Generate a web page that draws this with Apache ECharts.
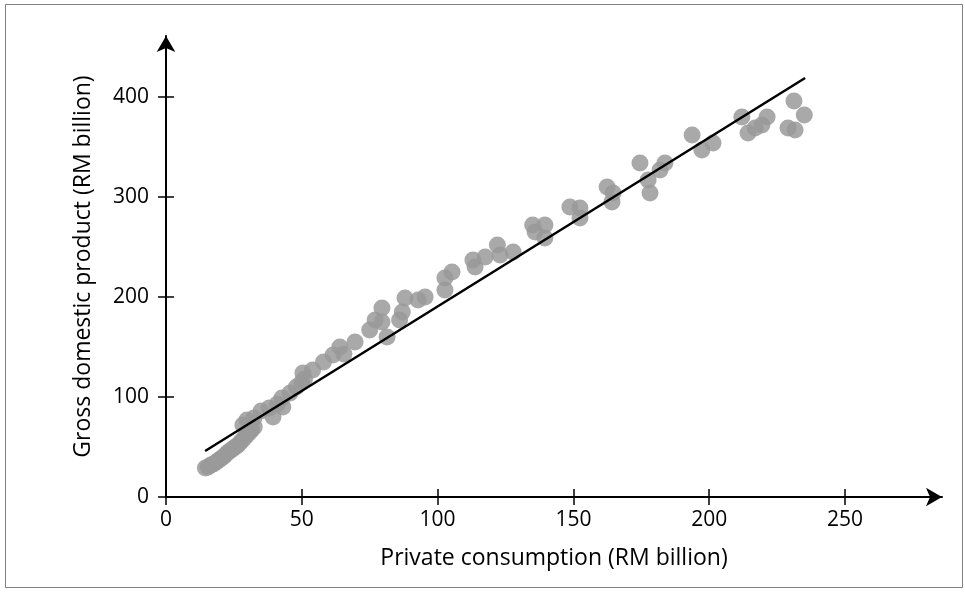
<!DOCTYPE html>
<html>
<head>
<meta charset="utf-8">
<script src="https://cdn.jsdelivr.net/npm/echarts@6/dist/echarts.min.js"></script>
<style>
html, body { margin: 0; padding: 0; background: #fff; }
#main { width: 965px; height: 592px; }
</style>
</head>
<body>
<div id="main"></div>
<script>
// private consumption (RM billion)
var consumption = [
    14.5, 15.5, 16.5, 17.5, 18.5, 19.5, 20.5, 21.5, 22.5, 23.5, 24.5, 25.5, 26.5, 27.5, 28.5, 29.5, 30.5, 31.5, 32.5,
    28.3, 29.8, 32.4, 35, 38, 39.4, 41, 43, 42.7, 45.7, 48, 50, 50.4, 51, 54, 58, 61.5, 64, 65.5, 69.6,
    75, 77, 79.5, 79.5, 81.4, 86, 87, 88, 92.8, 95.4,
    102.7, 102.7, 105.3, 113, 113.8, 117.5, 122, 123, 127.8, 135, 135.9, 139.5, 139.5,
    148.7, 152.4, 152.4, 162.4, 164.6, 164.2, 174.5, 177.5, 178.2, 181.9, 183.7,
    193.7, 197.3, 201.4, 212, 214.3, 216.9, 219.4, 221.3, 229, 231.6, 231.2, 235
];
// gross domestic product (RM billion)
var gdp = [
    29, 30, 32, 33, 35, 37, 39, 41, 44, 46, 48, 50, 52, 55, 58, 61, 64, 67, 70,
    72, 77, 79, 86, 89, 80, 93, 90, 99, 104, 110, 115, 124, 118, 127, 135, 142, 150, 143, 155,
    167, 177, 189, 175, 160, 177, 185, 199, 197, 200,
    219, 207, 225, 237, 230, 240, 252, 242, 245, 272, 265, 272, 259,
    290, 289, 279, 310, 304, 295, 334, 317, 304, 327, 334,
    362, 347, 354, 380, 364, 369, 372, 380, 369, 367, 396, 382
];
// fitted line end points
var trendX = [14.4, 235.3];
var trendY = [46, 419];

var xTicks = [0, 50, 100, 150, 200, 250];
var yTicks = [0, 100, 200, 300, 400];

var points = consumption.map(function (x, i) { return [x, gdp[i]]; });
var trend = trendX.map(function (x, i) { return [x, trendY[i]]; });

var myChart = echarts.init(document.getElementById('main'));

var font = 'Open Sans';

var option = {
    animation: false,
    graphic: [{
        type: 'rect',
        shape: { x: 5.5, y: 4.5, width: 957, height: 583 },
        style: { fill: 'none', stroke: '#808080', lineWidth: 1 },
        silent: true
    }],
    grid: {
        left: 166,
        right: 23,
        top: 36,
        bottom: 95
    },
    xAxis: [
        {
            type: 'value',
            position: 'bottom',
            min: 0,
            max: 285.7,
            name: 'Private consumption (RM billion)',
            nameLocation: 'middle',
            nameGap: 50,
            nameTextStyle: { color: '#000', fontFamily: font, fontSize: 23 },
            axisLine: {
                show: true,
                symbol: ['none', 'arrow'],
                symbolSize: [14, 16],
                lineStyle: { color: '#000', width: 2 }
            },
            axisTick: { show: true, length: 8, customValues: xTicks, lineStyle: { color: '#000', width: 1.5 } },
            axisLabel: { customValues: xTicks, margin: 13, color: '#000', fontFamily: font, fontSize: 21 },
            splitLine: { show: false }
        },
        {
            // inner half of the crossing ticks
            type: 'value',
            position: 'bottom',
            min: 0,
            max: 285.7,
            axisLine: { show: false },
            axisTick: { show: true, inside: true, length: 8, customValues: xTicks, lineStyle: { color: '#000', width: 1.5 } },
            axisLabel: { show: false },
            splitLine: { show: false }
        }
    ],
    yAxis: [
        {
            type: 'value',
            position: 'left',
            min: 0,
            max: 461,
            name: 'Gross domestic product (RM billion)',
            nameLocation: 'middle',
            nameGap: 71,
            nameTextStyle: { color: '#000', fontFamily: font, fontSize: 23 },
            axisLine: {
                show: true,
                symbol: ['none', 'arrow'],
                symbolSize: [14, 16],
                lineStyle: { color: '#000', width: 2 }
            },
            axisTick: { show: true, length: 8, customValues: yTicks, lineStyle: { color: '#000', width: 1.5 } },
            axisLabel: { customValues: yTicks, margin: 17, color: '#000', fontFamily: font, fontSize: 21 },
            splitLine: { show: false }
        },
        {
            type: 'value',
            position: 'left',
            min: 0,
            max: 461,
            axisLine: { show: false },
            axisTick: { show: true, inside: true, length: 8, customValues: yTicks, lineStyle: { color: '#000', width: 1.5 } },
            axisLabel: { show: false },
            splitLine: { show: false }
        }
    ],
    series: [
        {
            name: 'GDP',
            type: 'scatter',
            data: points,
            symbolSize: 17,
            itemStyle: { color: '#9a9a9a', opacity: 0.85 },
            silent: true
        },
        {
            name: 'Trend',
            type: 'line',
            data: trend,
            symbol: 'none',
            lineStyle: { color: '#000', width: 2.5 },
            silent: true
        }
    ]
};

myChart.setOption(option);
</script>
</body>
</html>
